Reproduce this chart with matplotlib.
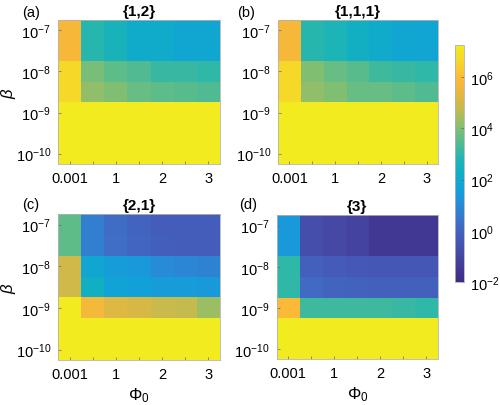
import matplotlib
matplotlib.use('Agg')
import matplotlib.pyplot as plt
import numpy as np
from matplotlib.colors import LinearSegmentedColormap, LogNorm

plt.rcParams['font.family'] = ['Liberation Sans', 'DejaVu Sans']
plt.rcParams['mathtext.fontset'] = 'custom'
plt.rcParams['mathtext.rm'] = 'Liberation Sans'
plt.rcParams['mathtext.it'] = 'Liberation Sans:italic'
plt.rcParams['mathtext.bf'] = 'Liberation Sans:bold'

# data ------------------------------------------------------------------
phi0 = [0.001, 0.5, 1, 1.5, 2, 2.5, 3]
phi0_labels = ['0.001', '', '1', '', '2', '', '3']
log_beta = [-7, -7.5, -8, -8.5, -9, -9.5, -10]

titles = ['{1,2}', '{1,1,1}', '{2,1}', '{3}']
letters = ['(a)', '(b)', '(c)', '(d)']

# log10 of the plotted quantity, rows follow log_beta, columns follow phi0
log_a = [
    [5.8, 2.9, 2.6, 2.1, 2.1, 1.9, 1.9],
    [5.8, 2.9, 2.6, 2.1, 2.1, 1.9, 1.9],
    [6.7, 3.9, 3.6, 3.4, 3.1, 3.1, 3.0],
    [6.7, 4.2, 4.0, 3.7, 3.6, 3.5, 3.4],
    [7.25, 7.25, 7.25, 7.25, 7.25, 7.25, 7.25],
    [7.25, 7.25, 7.25, 7.25, 7.25, 7.25, 7.25],
    [7.25, 7.25, 7.25, 7.25, 7.25, 7.25, 7.25],
]
log_b = [
    [5.8, 2.9, 2.7, 2.3, 2.1, 1.9, 1.8],
    [5.8, 2.9, 2.7, 2.3, 2.1, 1.9, 1.8],
    [6.7, 4.0, 3.7, 3.5, 3.2, 3.1, 3.0],
    [6.7, 4.2, 4.0, 3.7, 3.7, 3.6, 3.4],
    [7.25, 7.25, 7.25, 7.25, 7.25, 7.25, 7.25],
    [7.25, 7.25, 7.25, 7.25, 7.25, 7.25, 7.25],
    [7.25, 7.25, 7.25, 7.25, 7.25, 7.25, 7.25],
]
log_c = [
    [3.6, 0.7, 0.25, 0.0, -0.2, -0.2, -0.2],
    [3.6, 0.7, 0.3, 0.05, -0.15, -0.2, -0.2],
    [5.0, 1.9, 1.5, 1.4, 1.0, 0.9, 0.8],
    [5.0, 2.3, 1.7, 1.6, 1.5, 1.5, 1.4],
    [7.25, 5.7, 5.2, 5.1, 4.9, 4.8, 4.3],
    [7.25, 7.25, 7.25, 7.25, 7.25, 7.25, 7.25],
    [7.25, 7.25, 7.25, 7.25, 7.25, 7.25, 7.25],
]
log_d = [
    [1.4, -0.7, -0.95, -1.1, -1.5, -1.5, -1.5],
    [1.4, -0.7, -0.95, -1.1, -1.5, -1.5, -1.5],
    [3.0, -0.1, -0.3, -0.35, -0.4, -0.4, -0.4],
    [3.0, 0.2, 0.0, -0.05, -0.1, -0.1, -0.1],
    [5.9, 3.2, 3.2, 3.2, 3.2, 3.1, 3.0],
    [7.25, 7.25, 7.25, 7.25, 7.25, 7.25, 7.25],
    [7.25, 7.25, 7.25, 7.25, 7.25, 7.25, 7.25],
]
panels = [log_a, log_b, log_c, log_d]

# parula as it appears in the reference (slightly muted) ------------------
parula = LinearSegmentedColormap.from_list('parula_muted', [
    (0.00, (0.24, 0.17, 0.52)),
    (0.10, (0.27, 0.27, 0.63)),
    (0.18, (0.27, 0.35, 0.72)),
    (0.24, (0.25, 0.42, 0.77)),
    (0.33, (0.15, 0.55, 0.85)),
    (0.39, (0.07, 0.63, 0.85)),
    (0.455, (0.06, 0.68, 0.78)),
    (0.52, (0.12, 0.71, 0.70)),
    (0.58, (0.30, 0.73, 0.58)),
    (0.65, (0.50, 0.75, 0.45)),
    (0.71, (0.70, 0.74, 0.33)),
    (0.77, (0.85, 0.72, 0.27)),
    (0.85, (0.98, 0.72, 0.22)),
    (0.92, (0.97, 0.82, 0.17)),
    (1.00, (0.95, 0.92, 0.12)),
], N=256)
norm = LogNorm(vmin=1e-2, vmax=10 ** 7.25)

# figure ------------------------------------------------------------------
fig = plt.figure(figsize=(5.0, 4.06), dpi=100)

positions = [
    [0.116, 0.594, 0.324, 0.354],
    [0.556, 0.594, 0.320, 0.354],
    [0.116, 0.111, 0.324, 0.359],
    [0.553, 0.113, 0.323, 0.354],
]
letter_xy = [(0.044, 0.968), (0.474, 0.968), (0.044, 0.496), (0.478, 0.496)]

xEdges = np.arange(len(phi0) + 1) - 0.5
lb = np.array(log_beta)
yEdges = 10.0 ** np.concatenate([[lb[0] + 0.25], lb - 0.25])

for i, vals in enumerate(panels):
    ax = fig.add_axes(positions[i])
    z = 10.0 ** np.array(vals)
    ax.pcolormesh(xEdges, yEdges, z, cmap=parula, norm=norm)
    ax.set_yscale('log')
    ax.set_xlim(xEdges[0], xEdges[-1])
    ax.set_ylim(yEdges[-1], yEdges[0])
    ax.set_xticks(np.arange(len(phi0)))
    ax.set_xticklabels(phi0_labels)
    ax.set_yticks([1e-7, 1e-8, 1e-9, 1e-10])
    ax.set_yticklabels(['$10^{-7}$', '$10^{-8}$', '$10^{-9}$', '$10^{-10}$'])
    ax.minorticks_off()
    ax.tick_params(direction='in', length=2.5, width=0.5, color='0.4',
                   labelsize=10.5, pad=5)
    for s in ax.spines.values():
        s.set_color('0.7')
        s.set_linewidth(0.6)
    ax.set_title(titles[i], fontsize=11, fontweight='bold', pad=4)
    if i % 2 == 0:
        ax.set_ylabel(r'$\beta$', fontsize=12)
        ax.yaxis.set_label_coords(-0.245, 0.5)
    if i >= 2:
        ax.set_xlabel(r'$\Phi_0$', fontsize=12, labelpad=3)
    fig.text(letter_xy[i][0], letter_xy[i][1], letters[i], fontsize=10.5,
             va='center', ha='left')

cax = fig.add_axes([0.910, 0.302, 0.018, 0.585])
cb = fig.colorbar(plt.cm.ScalarMappable(norm=norm, cmap=parula), cax=cax)
cb.set_ticks([1e-2, 1e0, 1e2, 1e4, 1e6])
cb.set_ticklabels(['$10^{-2}$', '$10^{0}$', '$10^{2}$', '$10^{4}$', '$10^{6}$'])
cb.ax.minorticks_off()
cb.ax.tick_params(direction='in', length=2.5, width=0.5, color='0.4',
                  labelsize=10.5, pad=4)
cb.outline.set_edgecolor('0.7')
cb.outline.set_linewidth(0.6)

fig.savefig('out.png', dpi=100)
